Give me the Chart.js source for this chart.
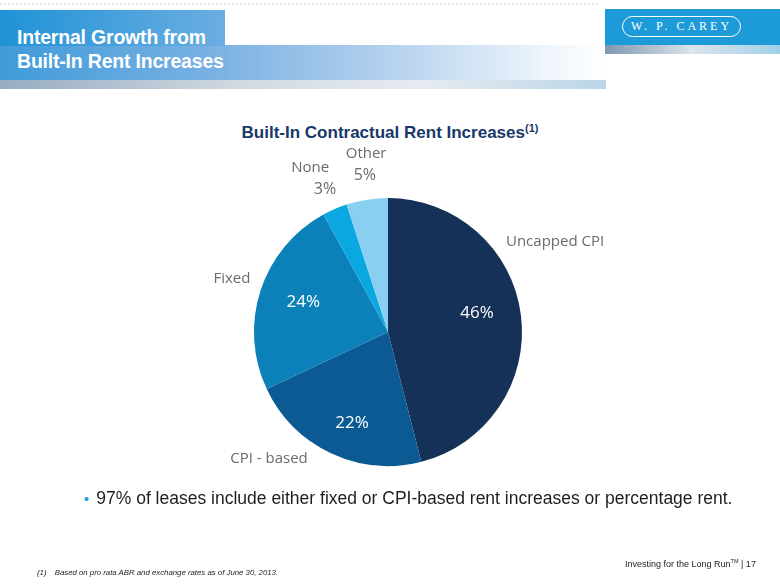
<!DOCTYPE html>
<html><head><meta charset="utf-8">
<script src="https://cdn.jsdelivr.net/npm/chart.js@4"></script>
<style>
html,body{margin:0;padding:0;background:#fff;}
#wrap{position:relative;width:780px;height:585px;overflow:hidden;font-family:"Liberation Sans",Arial,sans-serif;}
#c{position:absolute;left:0;top:0;}
.dots{position:absolute;left:0;top:3px;width:600px;height:2px;background:repeating-linear-gradient(90deg,#e3e6ea 0 2px,transparent 2px 4px);}
.tbox{position:absolute;left:0;top:10px;width:225px;height:36px;background:linear-gradient(90deg,#1f93d6,#6cade2);}
.tbar{position:absolute;left:0;top:45px;width:606px;height:35px;background:linear-gradient(90deg,#3f9bd9 0%,#79b1e2 35%,#b6d2ee 65%,#eef5fb 90%,#ffffff 100%);}
.tshadow{position:absolute;left:0;top:80px;width:606px;height:9px;background:linear-gradient(90deg,#7d97b2,#c6d0da 40%,#dfe6ec 70%,#a9cbe0 100%);opacity:.8;}
.title{position:absolute;left:17px;top:25px;color:#fff;font-weight:bold;font-size:19.5px;line-height:24px;letter-spacing:-0.2px;white-space:nowrap;}
.logo{position:absolute;left:605px;top:9px;width:175px;height:36px;background:#1d9bd8;}
.logoSh{position:absolute;left:605px;top:45px;width:175px;height:9px;background:linear-gradient(90deg,#7f98b0,#dde4ea 50%,#9fd0ea);}
.oval{position:absolute;left:17px;top:7px;width:117px;height:19px;border:1.2px solid #fff;border-radius:11px;color:#fff;font-family:"Liberation Serif","DejaVu Serif",serif;font-size:12px;line-height:19px;text-align:center;letter-spacing:3px;white-space:nowrap;}
.ctitle{position:absolute;left:0;width:780px;top:122px;text-align:center;color:#17386a;font-weight:bold;font-size:17px;white-space:nowrap;}
.ctitle sup{font-size:11px;vertical-align:6px;}
.bullet{position:absolute;left:84px;top:488px;font-size:17.5px;color:#1e1e1e;white-space:nowrap;}
.bullet b{color:#21a0dc;font-weight:normal;margin-right:7px;font-size:15px;}
.foot{position:absolute;left:37px;top:568px;font-size:7.8px;font-style:italic;color:#222;white-space:nowrap;}
.foot span{margin-right:6px;}
.page{position:absolute;left:625px;top:558px;font-size:9px;color:#222;white-space:nowrap;}
.page sup{font-size:5.5px;}
</style></head>
<body><div id="wrap">
<div class="dots"></div>
<div class="tbar"></div><div class="tshadow"></div>
<div class="tbox"></div>
<div class="title">Internal Growth from<br>Built-In Rent Increases</div>
<div class="logo"><div class="oval">W. P. CAREY</div></div><div class="logoSh"></div>
<div class="ctitle">Built-In Contractual Rent Increases<sup>(1)</sup></div>
<canvas id="c" width="780" height="585"></canvas>
<div class="bullet"><b>•</b>97% of leases include either fixed or CPI-based rent increases or percentage rent.</div>
<div class="foot"><span>(1)</span> Based on pro rata ABR and exchange rates as of June 30, 2013.</div>
<div class="page">Investing for the Long Run<sup>TM</sup> | 17</div>
</div>
<script>
const categories = ["Uncapped CPI", "CPI - based", "Fixed", "None", "Other"];
const shares = [46, 22, 24, 3, 5];
const pctLabels = ["46%", "22%", "24%", "3%", "5%"];
const colors = ["#163158", "#0b5a93", "#0b80b9", "#0aa7e1", "#88cff1"];
// label placement (style only): [angle offset in degrees from slice middle, radius factor]
const namePlace = [[-21.1, 1.416], [17.9, 1.30], [0.8, 1.23], [-2.0, 1.355], [2.0, 1.34]];
const pctPlace  = [[-4.85, 0.68], [-3.6, 0.73], [1.4, 0.67], [-0.4, 1.166], [0.6, 1.18]];
const pctInside = [true, true, true, false, false];

const labelPlugin = {
  id: 'pieLabels',
  afterDatasetsDraw(chart) {
    const ctx = chart.ctx;
    const meta = chart.getDatasetMeta(0);
    ctx.save();
    ctx.textAlign = 'center';
    ctx.textBaseline = 'middle';
    const at = (p, mid, pl) => {
      const a = mid + pl[0] * Math.PI / 180, d = p.outerRadius * pl[1];
      return [p.x + Math.cos(a) * d, p.y + Math.sin(a) * d];
    };
    meta.data.forEach((arc, i) => {
      const p = arc.getProps(['x','y','startAngle','endAngle','outerRadius'], true);
      const mid = (p.startAngle + p.endAngle) / 2;
      let [x, y] = at(p, mid, namePlace[i]);
      ctx.fillStyle = '#6b6b6b';
      ctx.font = '15px "Open Sans", "Noto Sans", sans-serif';
      ctx.fillText(categories[i], x, y);
      [x, y] = at(p, mid, pctPlace[i]);
      if (pctInside[i]) {
        ctx.fillStyle = '#ffffff';
        ctx.font = '17px "Open Sans", "Noto Sans", sans-serif';
      } else {
        ctx.fillStyle = '#6b6b6b';
        ctx.font = '16px "Open Sans", "Noto Sans", sans-serif';
      }
      ctx.fillText(pctLabels[i], x, y);
    });
    ctx.restore();
  }
};

new Chart(document.getElementById('c'), {
  type: 'pie',
  data: { labels: categories, datasets: [{ data: shares, backgroundColor: colors, borderWidth: 0 }] },
  options: {
    responsive: false, animation: false,
    layout: { padding: { left: 254, right: 258, top: 198, bottom: 119 } },
    plugins: { legend: { display: false }, tooltip: { enabled: false } }
  },
  plugins: [labelPlugin]
});
</script>
</body></html>
